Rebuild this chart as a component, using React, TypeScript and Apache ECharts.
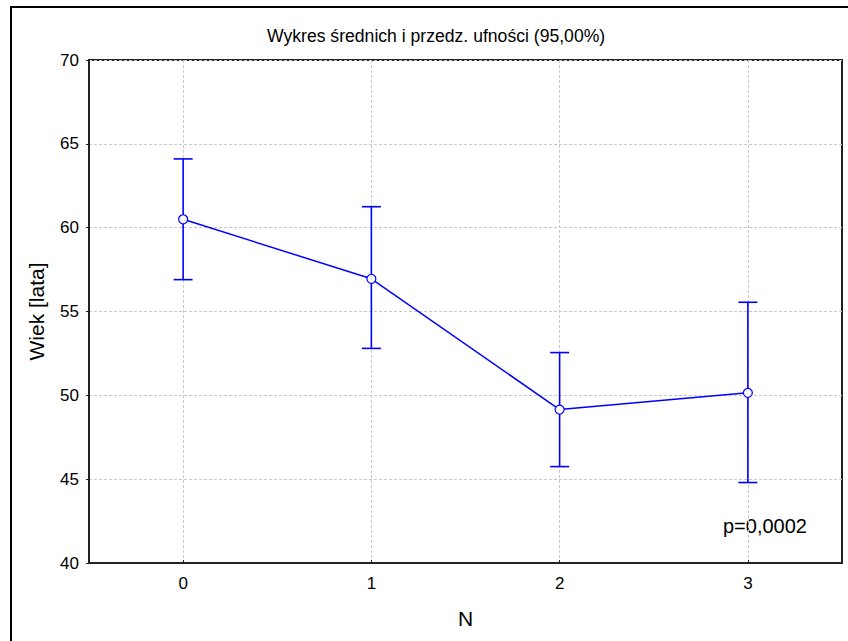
import React, { useEffect, useRef } from "react";
import * as echarts from "echarts";

const categories = ["0", "1", "2", "3"];
const means = [60.5, 56.95, 49.15, 50.15];
const upper = [64.1, 61.25, 52.55, 55.55];
const lower = [56.9, 52.8, 45.75, 44.8];
const yTicks = { min: 40, max: 70, interval: 5 };
const titleText = "Wykres średnich i przedz. ufności (95,00%)";
const yName = "Wiek [lata]";
const xName = "N";
const pText = "p=0,0002";

const FONT = "'Liberation Sans', Arial, sans-serif";
const BLUE = "#0000ff";

export default function App() {
  const ref = useRef<HTMLDivElement>(null);
  useEffect(() => {
    document.body.style.margin = "0";
    if (!ref.current) return;
    const chart = echarts.init(ref.current, undefined, { renderer: "svg" });
    const errData = categories.map((_, i) => [i, lower[i], upper[i]]);
    chart.setOption({
      animation: false,
      backgroundColor: "#ffffff",
      textStyle: { fontFamily: FONT },
      title: {
        text: titleText,
        left: 262,
        top: 22,
        textStyle: { fontFamily: FONT, fontSize: 17.6, fontWeight: "normal", color: "#000" },
      },
      grid: {
        left: 89,
        top: 60,
        right: 6,
        bottom: 78,
        show: true,
        borderColor: "#222",
        borderWidth: 2,
        backgroundColor: "transparent",
      },
      graphic: [
        {
          type: "rect",
          shape: { x: 11, y: 7, width: 1000, height: 1000 },
          style: { fill: "none", stroke: "#000", lineWidth: 2 },
          z: -10,
          silent: true,
        },
        {
          type: "text",
          x: 723,
          y: 526,
          style: {
            text: pText,
            fontFamily: FONT,
            fontSize: 20,
            fill: "#000",
            textAlign: "left",
            textVerticalAlign: "middle",
          },
        },
      ],
      xAxis: {
        type: "category",
        data: categories,
        boundaryGap: true,
        name: xName,
        nameLocation: "middle",
        nameGap: 45,
        nameTextStyle: { fontFamily: FONT, fontSize: 21, color: "#000" },
        axisLine: { show: true, lineStyle: { color: "#222", width: 2 } },
        axisTick: { show: true, inside: true, length: 3, alignWithLabel: true, lineStyle: { color: "#222" } },
        axisLabel: { fontFamily: FONT, fontSize: 17, color: "#000", margin: 12 },
        splitLine: {
          show: true,
          alignWithLabel: true,
          lineStyle: { color: "#c8c8c8", type: [3, 2], width: 1 },
        },
      },
      yAxis: {
        type: "value",
        min: yTicks.min,
        max: yTicks.max,
        interval: yTicks.interval,
        name: yName,
        nameLocation: "middle",
        nameGap: 42,
        nameTextStyle: { fontFamily: FONT, fontSize: 21, color: "#000" },
        axisLine: { show: true, lineStyle: { color: "#222", width: 2 } },
        axisTick: { show: true, inside: false, length: 3, lineStyle: { color: "#222" } },
        axisLabel: { fontFamily: FONT, fontSize: 17, color: "#000", margin: 10 },
        splitLine: { show: true, lineStyle: { color: "#c8c8c8", type: [3, 2], width: 1 } },
      },
      series: [
        {
          type: "custom",
          name: "CI",
          data: errData,
          z: 2,
          renderItem: (params: any, api: any) => {
            const x = api.value(0);
            const lo = api.coord([x, api.value(1)]);
            const hi = api.coord([x, api.value(2)]);
            const hw = 9.5;
            const st = { stroke: BLUE, lineWidth: 1.6 };
            return {
              type: "group",
              children: [
                { type: "line", shape: { x1: hi[0], y1: hi[1], x2: lo[0], y2: lo[1] }, style: st },
                { type: "line", shape: { x1: hi[0] - hw, y1: hi[1], x2: hi[0] + hw, y2: hi[1] }, style: st },
                { type: "line", shape: { x1: lo[0] - hw, y1: lo[1], x2: lo[0] + hw, y2: lo[1] }, style: st },
              ],
            };
          },
        },
        {
          type: "line",
          name: "Średnia",
          data: means,
          z: 5,
          symbol: "circle",
          symbolSize: 9,
          showSymbol: true,
          lineStyle: { color: BLUE, width: 1.5 },
          itemStyle: { color: "#ffffff", borderColor: BLUE, borderWidth: 1.2 },
        },
      ],
    });
    return () => chart.dispose();
  }, []);
  return <div ref={ref} style={{ width: 848, height: 641 }} />;
}
